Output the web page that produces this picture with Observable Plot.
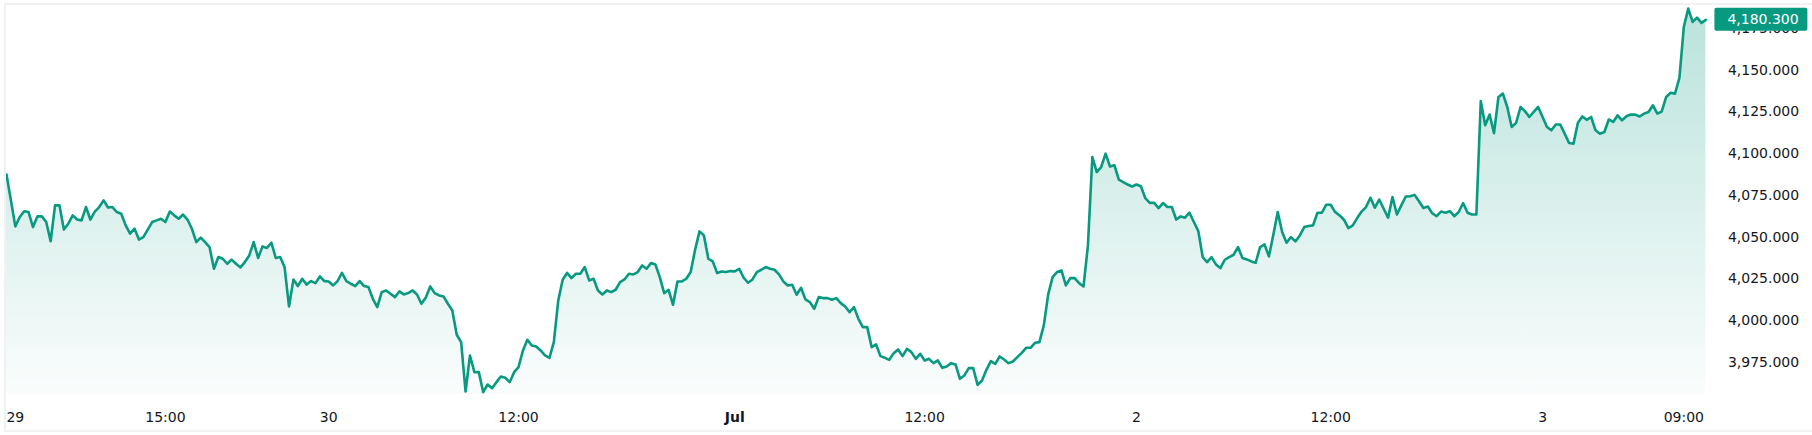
<!DOCTYPE html>
<html>
<head>
<meta charset="utf-8">
<script src="https://cdn.jsdelivr.net/npm/d3@7"></script>
<script src="https://cdn.jsdelivr.net/npm/@observablehq/plot@0.6"></script>
<style>
  html, body { margin: 0; padding: 0; background: #fff; }
  #chart { position: relative; width: 1812px; height: 435px; }
  #frame {
    position: absolute; left: 4px; top: 3px; width: 1808px; height: 429px;
    box-sizing: border-box; pointer-events: none;
    border-top: 2px solid #f0f1f3; border-bottom: 2px solid #f0f1f3; border-left: 2px solid #f0f1f3;
  }
</style>
</head>
<body>
<div id="chart"><div id="frame"></div></div>
<script>
// 15-minute closes, Jun 29 -> Jul 3
const prices = [
  4087.5, 4072, 4056.4, 4062, 4065.5, 4065, 4056, 4062.4, 4062.4, 4059, 4047.5, 4069, 4069, 4054.5, 4058, 4063,
  4060.5, 4060, 4068, 4060.5, 4065.3, 4068, 4072, 4067.7, 4068, 4065, 4064, 4057, 4052, 4055, 4048.5, 4050,
  4054.5, 4059, 4060, 4061, 4059, 4065.3, 4063, 4061, 4063.5, 4060.5, 4055, 4047, 4049.7, 4047, 4044,
  4031, 4038, 4037, 4034, 4036.5, 4034, 4031.8, 4035, 4039, 4047, 4037.5, 4044.4, 4043.5, 4046.6, 4037.5, 4038,
  4032, 4008.4, 4024.5, 4020.6, 4025, 4021.5, 4023.6, 4022.4, 4026.4, 4023.6, 4023.4, 4021, 4023.6, 4028.5, 4023.6, 4022,
  4020.6, 4023.6, 4020.6, 4020, 4013, 4008, 4017, 4018, 4016, 4014, 4017.4, 4015.6, 4016.4, 4018, 4015.6, 4010,
  4013.8, 4020.4, 4016.4, 4015, 4014.4, 4010, 4006, 3991.4, 3987, 3957.4, 3979, 3969, 3969, 3957, 3961.6, 3959.4,
  3963, 3966.4, 3965.6, 3963, 3969, 3972, 3982, 3988.4, 3985, 3984.4, 3982, 3979, 3977.6, 3987, 4012, 4024.4,
  4028.5, 4025.4, 4028, 4028, 4032, 4024, 4025, 4018, 4015.6, 4018, 4017, 4018.4, 4023, 4024.6, 4028, 4027.6,
  4029, 4033, 4031, 4034.4, 4033.6, 4026, 4016.4, 4018.4, 4009.4, 4023.4, 4023.4, 4025, 4029, 4042.4, 4053.4, 4051,
  4037, 4035.4, 4028.4, 4029.4, 4029, 4029.6, 4029.4, 4031, 4025.6, 4022.6, 4024.6, 4029, 4030.4, 4032, 4031, 4030.4,
  4027.6, 4023.4, 4021, 4021.4, 4015.4, 4019.6, 4012.6, 4011, 4007, 4014, 4013.4, 4013.4, 4012.4, 4013.4, 4010.4, 4008.4, 4005,
  4008, 4001, 3996, 3996, 3984, 3985.6, 3978.6, 3977.6, 3976.4, 3980.4, 3982.6, 3978.6, 3983, 3981, 3977, 3980,
  3976, 3977, 3974.4, 3976, 3971.6, 3972.4, 3974.4, 3973.6, 3965, 3967, 3971.4, 3971.4, 3961.4, 3964, 3970.4, 3975.6,
  3974, 3978.4, 3976.6, 3974.4, 3975.4, 3978, 3980.6, 3983.6, 3983.6, 3986.6, 3987, 3997, 4015.6, 4026, 4029, 4030,
  4021, 4025.4, 4025.4, 4022.4, 4020.4, 4045, 4098, 4089, 4092, 4100, 4092.3, 4093, 4084.4, 4083, 4081.5, 4080.3,
  4081.5, 4080.5, 4073.3, 4070.5, 4070.5, 4067.4, 4070.4, 4068, 4068, 4060.5, 4062.4, 4061.6, 4064.6, 4059, 4053.6, 4038,
  4035, 4038, 4033.6, 4031.4, 4036.4, 4038, 4039.4, 4044, 4037.4, 4036.6, 4035.4, 4034.6, 4044, 4045.6, 4038.4, 4051.4,
  4065, 4053, 4046.6, 4050, 4047.4, 4051, 4056, 4056.6, 4057, 4064.6, 4064.6, 4069.4, 4069.4, 4065, 4063, 4060.4,
  4055.4, 4057, 4061.4, 4065.3, 4068, 4073.6, 4067.6, 4072.5, 4067, 4061.6, 4074, 4063.5, 4069, 4074.3, 4074.5, 4075.3,
  4071.5, 4067.4, 4068.3, 4064.3, 4062.5, 4065.3, 4064.6, 4065.5, 4062.5, 4065, 4070.4, 4064.6, 4063.5, 4063.5, 4131.5, 4117, 4123.5,
  4112.3, 4134, 4136, 4128, 4116, 4118.5, 4128, 4125.5, 4122, 4125, 4128, 4122, 4116, 4114, 4117.5, 4117.5,
  4112, 4106.4, 4106, 4118.5, 4122.3, 4120.3, 4122, 4114, 4112, 4113, 4120.5, 4119, 4123, 4120, 4122.4, 4123.5,
  4123.4, 4122.3, 4124, 4125, 4129, 4124, 4125.3, 4134, 4136.5, 4136, 4145.5, 4176, 4187, 4179, 4181.6, 4178.4, 4180.3
];

// time axis labels, placed at bar index
const dayTickIdx = [2, 36, 73, 116, 208, 256, 300, 348, 380];
const dayTickLabels = ["29", "15:00", "30", "12:00", "12:00", "2", "12:00", "3", "09:00"];
const monthTickIdx = [165];
const monthTickLabels = ["Jul"];

const priceTicks = [3975, 4000, 4025, 4050, 4075, 4100, 4125, 4150, 4175];

const green = "#089981";
const fmt = d3.format(",.3f");
const data = prices.map((p, i) => ({i, p}));
const last = prices[prices.length - 1];
const yDomain = [3955.6, 4188.85];

let chart = Plot.plot({
  width: 1812,
  height: 435,
  marginLeft: 6,
  marginRight: 106.6,
  marginTop: 5,
  marginBottom: 41,
  x: {domain: [0, prices.length - 1], axis: null, label: null},
  y: {domain: yDomain, axis: null, label: null},
  style: {
    fontFamily: "DejaVu Sans",
    fontSize: "14px",
    color: "#131722",
    background: "transparent",
    overflow: "visible",
  },
  marks: [
    () => {
      const defs = d3.create("svg:defs");
      const lg = defs.append("linearGradient")
        .attr("id", "area-grad")
        .attr("x1", 0).attr("y1", 0).attr("x2", 0).attr("y2", 1);
      lg.append("stop").attr("offset", "0%").attr("stop-color", green).attr("stop-opacity", 0.28);
      lg.append("stop").attr("offset", "100%").attr("stop-color", green).attr("stop-opacity", 0.02);
      return defs.node();
    },
    Plot.areaY(data, {x: "i", y1: yDomain[0], y2: "p", fill: "url(#area-grad)"}),
    Plot.lineY(data, {x: "i", y: "p", stroke: green, strokeWidth: 2.6}),
    Plot.axisY(priceTicks, {
      anchor: "right",
      label: null,
      tickSize: 0,
      tickPadding: 22,
      tickFormat: fmt,
    }),
    Plot.text(dayTickIdx, {
      x: (d) => d,
      text: (d, i) => dayTickLabels[i],
      frameAnchor: "bottom",
      lineAnchor: "middle",
      dy: 23,
      fill: "#131722",
    }),
    Plot.text(monthTickIdx, {
      x: (d) => d,
      text: (d, i) => monthTickLabels[i],
      frameAnchor: "bottom",
      lineAnchor: "middle",
      dy: 23,
      fontWeight: "bold",
      fill: "#131722",
    }),
    // last price label on the scale
    (index, scales, values, dims) => {
      const y = scales.y(last);
      const x0 = dims.width - dims.marginRight + 9;
      const g = d3.create("svg:g");
      g.append("rect")
        .attr("x", x0).attr("y", y - 11.5)
        .attr("width", 93).attr("height", 23)
        .attr("rx", 2).attr("fill", green);
      g.append("text")
        .attr("x", x0 + 13).attr("y", y).attr("dy", "0.35em")
        .attr("text-anchor", "start")
        .attr("fill", "white")
        .text(fmt(last));
      return g.node();
    },
  ],
});

d3.select("#chart").append(() => chart);
</script>
</body>
</html>
